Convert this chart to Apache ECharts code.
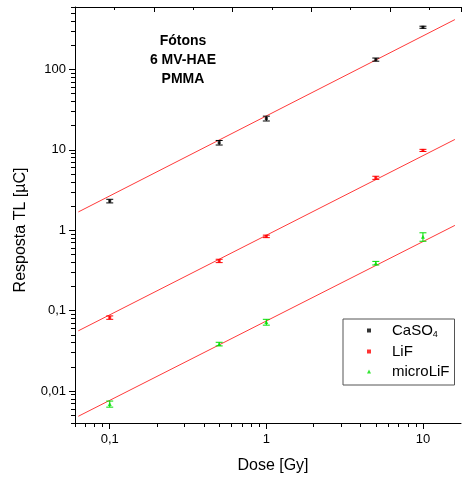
<!DOCTYPE html>
<html>
<head>
<meta charset="utf-8">
<script src="https://cdn.jsdelivr.net/npm/echarts@6/dist/echarts.min.js"></script>
<style>html,body{margin:0;padding:0;background:#fff;}#c{width:462px;height:478px;}</style>
</head>
<body>
<div id="c"></div>
<script>
// ---- data ----
var doses = [0.1, 0.5, 1, 5, 10];
var caso4 = [2.31, 12.3, 24.6, 133, 336];
var caso4Err = [0.12, 0.8, 1.7, 6, 10];
var lif = [0.082, 0.416, 0.84, 4.5, 9.86];
var lifErr = [0.004, 0.02, 0.03, 0.2, 0.3];
var microlif = [0.0069, 0.0384, 0.072, 0.39, 0.83];
var microlifErr = [0.0006, 0.002, 0.006, 0.02, 0.1];
// fit lines (endpoints)
var caso4Fit = [[0.063, 1.69], [16, 418]];
var lifFit = [[0.063, 0.0561], [16, 13.5]];
var microlifFit = [[0.063, 0.00485], [16, 1.15]];
// axis ticks
var xMajor = [0.1, 1, 10];
var xMinor = [0.06, 0.07, 0.08, 0.09, 0.2, 0.3, 0.4, 0.5, 0.6, 0.7, 0.8, 0.9, 2, 3, 4, 5, 6, 7, 8, 9];
var yMajor = [0.01, 0.1, 1, 10, 100];
var yMinor = [0.004, 0.005, 0.006, 0.007, 0.008, 0.009, 0.02, 0.03, 0.04, 0.05, 0.06, 0.07, 0.08, 0.09,
  0.2, 0.3, 0.4, 0.5, 0.6, 0.7, 0.8, 0.9, 2, 3, 4, 5, 6, 7, 8, 9, 20, 30, 40, 50, 60, 70, 80, 90,
  200, 300, 400, 500, 600];
var seriesNames = ['CaSO4', 'LiF', 'microLiF'];
var titleLines = ['Fótons', '6 MV-HAE', 'PMMA'];

var FONT = "'Liberation Sans', Arial, sans-serif";
function fmt(v) { return String(v).replace('.', ','); }
function pts(ys) { return doses.map(function (d, i) { return [d, ys[i]]; }); }
function errs(ys, es) { return doses.map(function (d, i) { return [d, ys[i] - es[i], ys[i] + es[i]]; }); }
function errSeries(name, ys, es, color) {
  return {
    type: 'custom', name: name + '_err', xAxisIndex: 0, yAxisIndex: 0,
    data: errs(ys, es), z: 3,
    renderItem: function (params, api) {
      var x = api.value(0);
      var lo = api.coord([x, api.value(1)]);
      var hi = api.coord([x, api.value(2)]);
      var w = 3.5;
      var st = { stroke: color, lineWidth: 1 };
      return { type: 'group', children: [
        { type: 'line', shape: { x1: lo[0], y1: lo[1], x2: hi[0], y2: hi[1] }, style: st },
        { type: 'line', shape: { x1: lo[0] - w, y1: lo[1], x2: lo[0] + w, y2: lo[1] }, style: st },
        { type: 'line', shape: { x1: hi[0] - w, y1: hi[1], x2: hi[0] + w, y2: hi[1] }, style: st }
      ]};
    }
  };
}
function fitSeries(data) {
  return { type: 'line', data: data, symbol: 'none', silent: true, z: 2,
    lineStyle: { color: '#ff3a3a', width: 1 }, xAxisIndex: 0, yAxisIndex: 0 };
}
var colors = ['#000000', '#ff0000', '#00e000'];

var chart = echarts.init(document.getElementById('c'), null, { renderer: 'canvas' });
chart.setOption({
  animation: false,
  backgroundColor: '#ffffff',
  textStyle: { fontFamily: FONT },
  grid: { left: 75, top: 7, right: 1, bottom: 55, containLabel: false },
  xAxis: [
    { type: 'log', min: 0.06, max: 17.5, position: 'bottom',
      axisLine: { show: true, onZero: false, lineStyle: { color: '#000', width: 1 } },
      axisTick: { show: true, customValues: xMajor, length: 6, inside: false, lineStyle: { color: '#000' } },
      axisLabel: { show: true, customValues: xMajor, formatter: fmt, margin: 10, fontSize: 13, color: '#000', fontFamily: FONT },
      splitLine: { show: false } },
    { type: 'value', min: 0, max: 9.8, interval: 2, position: 'top',
      axisLine: { show: true, onZero: false, lineStyle: { color: '#000', width: 1 } },
      axisTick: { show: true, inside: true, length: 5, lineStyle: { color: '#000' } },
      minorTick: { show: true, splitNumber: 2, length: 3, lineStyle: { color: '#000' } },
      axisLabel: { show: false }, splitLine: { show: false } },
    { type: 'log', min: 0.06, max: 17.5, position: 'bottom',
      axisLine: { show: false },
      axisTick: { show: true, customValues: xMinor, length: 4, inside: false, lineStyle: { color: '#000' } },
      axisLabel: { show: false }, splitLine: { show: false } }
  ],
  yAxis: [
    { type: 'log', min: 0.004, max: 600, position: 'left',
      axisLine: { show: true, onZero: false, lineStyle: { color: '#000', width: 1 } },
      axisTick: { show: true, customValues: yMajor, length: 6, inside: false, lineStyle: { color: '#000' } },
      axisLabel: { show: true, customValues: yMajor, formatter: fmt, margin: 9, fontSize: 13, color: '#000', fontFamily: FONT },
      splitLine: { show: false } },
    { type: 'log', min: 0.004, max: 600, position: 'left',
      axisLine: { show: false },
      axisTick: { show: true, customValues: yMinor, length: 4, inside: false, lineStyle: { color: '#000' } },
      axisLabel: { show: false }, splitLine: { show: false } }
  ],
  legend: {
    data: seriesNames, orient: 'vertical', left: 343, top: 319,
    padding: [4, 5, 6, 24], itemGap: 5, itemWidth: 4, itemHeight: 4,
    borderColor: '#555', borderWidth: 1, backgroundColor: '#fff',
    formatter: function (n) { return n === 'CaSO4' ? 'CaSO{s|4}' : n; },
    textStyle: { fontSize: 15, color: '#000', fontFamily: FONT, padding: [0, 0, 0, 16],
      rich: { s: { fontSize: 9, fontFamily: FONT, color: '#000', padding: [8, 0, 0, 0] } } }
  },
  graphic: [
    { type: 'text', x: 183, y: 41, style: { text: titleLines[0], font: 'bold 14px ' + FONT, fill: '#000', align: 'center', verticalAlign: 'middle' } },
    { type: 'text', x: 183, y: 60, style: { text: titleLines[1], font: 'bold 14px ' + FONT, fill: '#000', align: 'center', verticalAlign: 'middle' } },
    { type: 'text', x: 183, y: 79, style: { text: titleLines[2], font: 'bold 14px ' + FONT, fill: '#000', align: 'center', verticalAlign: 'middle' } },
    { type: 'text', x: 273, y: 466, style: { text: 'Dose [Gy]', font: '16px ' + FONT, fill: '#000', align: 'center', verticalAlign: 'middle' } },
    { type: 'text', x: 21, y: 230, rotation: Math.PI / 2, style: { text: 'Resposta TL [µC]', font: '16px ' + FONT, fill: '#000', align: 'center', verticalAlign: 'middle' } }
  ],
  series: [
    fitSeries(caso4Fit), fitSeries(lifFit), fitSeries(microlifFit),
    errSeries('CaSO4', caso4, caso4Err, colors[0]),
    errSeries('LiF', lif, lifErr, colors[1]),
    errSeries('microLiF', microlif, microlifErr, colors[2]),
    { type: 'scatter', name: seriesNames[0], data: pts(caso4), symbol: 'rect', symbolSize: 3, itemStyle: { color: colors[0] }, z: 4 },
    { type: 'scatter', name: seriesNames[1], data: pts(lif), symbol: 'rect', symbolSize: 3, itemStyle: { color: colors[1] }, z: 4 },
    { type: 'scatter', name: seriesNames[2], data: pts(microlif), symbol: 'triangle', symbolSize: 4, itemStyle: { color: colors[2] }, z: 4 }
  ]
});
</script>
</body>
</html>
